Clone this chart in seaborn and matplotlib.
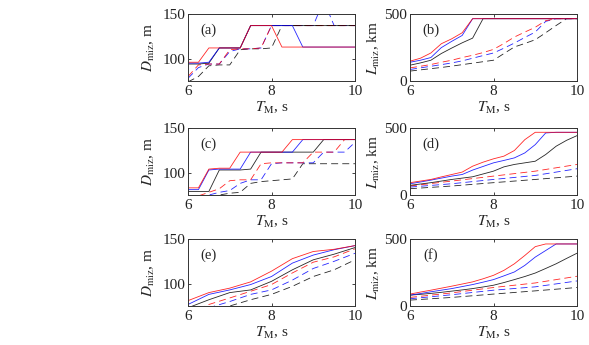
import matplotlib
matplotlib.use("Agg")
import matplotlib.pyplot as plt
import seaborn as sns
import pandas as pd

# ---------------- data ----------------
T_q = [6.0, 6.25, 6.5, 6.75, 7.0, 7.25, 7.5, 7.75, 8.0, 8.25, 8.5, 8.75, 9.0, 9.25, 9.5, 9.75, 10.0]
T_h = [6.0, 6.5, 7.0, 7.5, 8.0, 8.5, 9.0, 9.5, 10.0]
T_d = [6.0, 7.0, 8.0, 9.0, 10.0]

# (a) D_miz
a_red_s   = [96, 96, 112, 112, 112, 112, 137, 137, 137, 113, 113, 113, 113, 113, 113, 113, 113]
a_blue_s  = [95, 95, 96, 112, 112, 112, 137, 137, 137, 137, 137, 113, 113, 113, 113, 113, 113]
a_black_s = [94, 94, 95, 112, 112, 112, 137, 137, 137, 137, 137, 137, 137, 137, 137, 137, 137]
a_red_d   = [80, 93, 94, 94, 110, 111, 111, 112, 137, 137, 137, 137, 137, 137, 137, 137, 137]
a_blue_d  = [78, 90, 94, 94, 108, 111, 111, 112, 137, 137, 137, 137, 137, 165, 137, 137, 137]
a_black_d = [74, 80, 92, 93, 93, 110, 111, 111, 112, 137, 137, 137, 137, 137, 137, 137, 137]

# (b) L_miz
b_red_s   = [148, 170, 209, 278, 315, 360, 465, 465, 465, 465, 465, 465, 465, 465, 465, 465, 465]
b_blue_s  = [140, 155, 175, 249, 296, 340, 465, 465, 465, 465, 465, 465, 465, 465, 465, 465, 465]
b_black_s = [118, 135, 155, 205, 246, 285, 320, 465, 465, 465, 465, 465, 465, 465, 465, 465, 465]
b_red_d   = [98, 110, 123, 140, 155, 175, 192, 212, 236, 280, 328, 365, 401, 450, 465, 465, 465]
b_blue_d  = [86, 98, 110, 122, 135, 150, 170, 190, 209, 245, 283, 325, 365, 445, 465, 465, 465]
b_black_d = [74, 83, 92, 101, 111, 122, 133, 144, 155, 205, 254, 280, 308, 360, 414, 465, 465]

# (c) D_miz
c_red_s   = [83, 83, 104, 105, 105, 123, 123, 123, 123, 123, 137, 137, 137, 137, 137, 137, 137]
c_blue_s  = [81, 81, 103, 104, 104, 104, 123, 123, 123, 123, 123, 137, 137, 137, 137, 137, 137]
c_black_s = [79, 79, 79, 103, 103, 103, 104, 123, 123, 123, 123, 123, 123, 137, 137, 137, 137]
c_red_d   = [72, 74, 78, 82, 91, 92, 92, 110, 111, 111, 111, 111, 123, 123, 123, 137, 137]
c_blue_d  = [70, 72, 75, 78, 80, 88, 92, 92, 110, 111, 111, 111, 111, 123, 123, 123, 134]
c_black_d = [68, 70, 73, 75, 77, 78, 88, 90, 91, 92, 93, 110, 110, 110, 110, 110, 110]

# (d) L_miz
d_red_s   = [92, 104, 116, 135, 153, 171, 215, 245, 270, 290, 332, 413, 468, 468, 468, 468, 468]
d_blue_s  = [84, 97, 111, 126, 141, 153, 186, 213, 240, 258, 277, 314, 376, 463, 468, 468, 468]
d_black_s = [72, 82, 92, 104, 116, 126, 136, 157, 178, 210, 228, 240, 252, 302, 364, 408, 443]
d_red_d   = [67, 104, 141, 178, 228]
d_blue_d  = [59, 84, 116, 146, 196]
d_black_d = [47, 67, 92, 116, 141]

# (e) D_miz
e_red_s   = [81, 90, 95, 102, 114, 128, 136, 138.5, 142.6]
e_blue_s  = [76.7, 88, 93, 99, 108, 123, 132, 138, 142.6]
e_black_s = [73, 82, 90, 93, 102.6, 115.5, 126.7, 133, 140.4]
e_red_d   = [67, 76.7, 84, 91.5, 99, 112, 124, 130, 139]
e_blue_d  = [63, 73, 80, 88, 93, 104, 117, 125, 134]
e_black_d = [60, 68.5, 75, 82, 88, 97, 108, 115.5, 126.7]

# (f) L_miz
f_red_s   = [89, 104, 118, 133, 148, 164, 180, 203, 229, 266, 315, 377, 443, 463, 463, 463, 463]
f_blue_s  = [81, 93, 106, 118, 130, 145, 160, 178, 197, 225, 254, 303, 365, 414, 463, 463, 463]
f_black_s = [81, 87, 94, 102, 111, 120, 130, 142, 155, 175, 197, 220, 246, 280, 315, 355, 394]
f_red_d   = [64, 98, 138, 172, 222]
f_blue_d  = [54, 84, 118, 143, 187]
f_black_d = [44, 64, 89, 113, 138]

# ---------------- style ----------------
sns.set_style("ticks")
plt.rcParams["font.family"] = ["Liberation Serif", "DejaVu Serif"]
plt.rcParams["mathtext.fontset"] = "stix"
plt.rcParams["lines.scale_dashes"] = False

RED, BLUE, BLACK = "#ff0000", "#0000ff", "#000000"
DASH = (0, (5, 3))

fig = plt.figure(figsize=(5.89, 3.45), dpi=100)
W, H = 589.0, 345.0
ax_w, ax_h = 167 / W, 67 / H
lefts = [188 / W, 410 / W]
bottoms = [1 - 81 / H, 1 - 195 / H, 1 - 306 / H]

panels = [
    ("(a)", "D", (T_q, a_black_s), (T_q, a_blue_s), (T_q, a_red_s), (T_q, a_black_d), (T_q, a_blue_d), (T_q, a_red_d)),
    ("(b)", "L", (T_q, b_black_s), (T_q, b_blue_s), (T_q, b_red_s), (T_q, b_black_d), (T_q, b_blue_d), (T_q, b_red_d)),
    ("(c)", "D", (T_q, c_black_s), (T_q, c_blue_s), (T_q, c_red_s), (T_q, c_black_d), (T_q, c_blue_d), (T_q, c_red_d)),
    ("(d)", "L", (T_q, d_black_s), (T_q, d_blue_s), (T_q, d_red_s), (T_d, d_black_d), (T_d, d_blue_d), (T_d, d_red_d)),
    ("(e)", "D", (T_h, e_black_s), (T_h, e_blue_s), (T_h, e_red_s), (T_h, e_black_d), (T_h, e_blue_d), (T_h, e_red_d)),
    ("(f)", "L", (T_q, f_black_s), (T_q, f_blue_s), (T_q, f_red_s), (T_d, f_black_d), (T_d, f_blue_d), (T_d, f_red_d)),
]

colors = [BLACK, BLUE, RED, BLACK, BLUE, RED]
styles = ["-", "-", "-", DASH, DASH, DASH]

for i, p in enumerate(panels):
    label, kind = p[0], p[1]
    row, col = divmod(i, 2)
    ax = fig.add_axes([lefts[col], bottoms[row], ax_w, ax_h])
    order = [3, 4, 5, 0, 1, 2]
    for k in order:
        xs, ys = p[2 + k]
        df = pd.DataFrame({"T": xs, "v": ys})
        sns.lineplot(data=df, x="T", y="v", color=colors[k], linestyle=styles[k],
                     linewidth=0.6, alpha=0.85, estimator=None, ax=ax, legend=False)
    ax.set_xlim(6, 10)
    ax.set_xticks([6, 8, 10])
    if kind == "D":
        ax.set_ylim(75, 150)
        ax.set_yticks([100, 150])
        ax.set_ylabel(r"$D_{\rm miz}$, m", fontsize=11, labelpad=4)
    else:
        ax.set_ylim(0, 500)
        ax.set_yticks([0, 500])
        ax.set_ylabel(r"$L_{\rm miz}$, km", fontsize=11, labelpad=2)
    ax.set_xlabel(r"$T_{\rm M}$, s", fontsize=11, labelpad=1)
    ax.tick_params(axis="both", direction="in", length=2.5, width=0.6,
                   top=True, right=True, labelsize=11, colors="#222222")
    ax.tick_params(axis="x", pad=3)
    ax.tick_params(axis="y", pad=2)
    for s in ax.spines.values():
        s.set_linewidth(0.7)
        s.set_color("#333333")
    ax.text(0.125, 0.76, label, transform=ax.transAxes, ha="center", va="center", fontsize=10.5)

fig.savefig("out.png", dpi=100)
